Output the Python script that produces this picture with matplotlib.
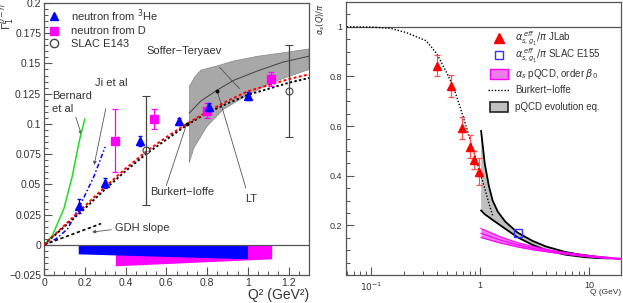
import matplotlib
matplotlib.use("Agg")
import matplotlib.pyplot as plt
from matplotlib.lines import Line2D
from matplotlib.patches import Rectangle
from matplotlib.ticker import MultipleLocator, NullFormatter, FixedLocator

plt.rcParams['font.family'] = ['Liberation Sans', 'DejaVu Sans']
plt.rcParams['mathtext.fontset'] = 'dejavusans'

# ---------------- Left panel data: Gamma1^{p-n} vs Q^2 ----------------
he3_q2 = [0.17, 0.30, 0.47, 0.66, 0.81, 1.0]
he3_g = [0.032, 0.051, 0.086, 0.102, 0.114, 0.123]
he3_err = [0.006, 0.004, 0.004, 0.003, 0.003, 0.003]

d_q2 = [0.35, 0.54, 0.80, 1.115]
d_g = [0.086, 0.104, 0.111, 0.137]
d_err = [0.026, 0.008, 0.006, 0.006]

e143_q2 = [0.5, 1.2]
e143_g = [0.078, 0.127]
e143_err = [0.045, 0.038]

bern_q2 = [0.0, 0.041, 0.098, 0.139, 0.172, 0.20]
bern_g = [0.0, 0.0077, 0.030, 0.057, 0.085, 0.104]

ji_q2 = [0.0, 0.06, 0.115, 0.17, 0.246, 0.30]
ji_g = [0.0, 0.005, 0.013, 0.030, 0.057, 0.081]

bi_red_q2 = [0.0, 0.1, 0.2, 0.3, 0.4, 0.5, 0.6, 0.7, 0.8, 0.9, 1.0, 1.1, 1.2, 1.3]
bi_red_g = [0.0, 0.016, 0.032, 0.048, 0.063, 0.077, 0.089, 0.100, 0.110, 0.119, 0.127, 0.132, 0.137, 0.141]
bi_blk_g = [0.0, 0.015, 0.030, 0.046, 0.061, 0.075, 0.087, 0.099, 0.109, 0.117, 0.124, 0.129, 0.134, 0.138]

gdh_q2 = [0.0, 0.28]
gdh_g = [0.0, 0.0175]

st_up_q2 = [0.713, 0.74, 0.77, 0.85, 0.93, 1.05, 1.18, 1.3]
st_up_g = [0.131, 0.139, 0.1445, 0.148, 0.152, 0.156, 0.159, 0.162]
st_lo_q2 = [0.713, 0.735, 0.80, 0.88, 1.0, 1.13, 1.3]
st_lo_g = [0.068, 0.080, 0.098, 0.112, 0.124, 0.135, 0.145]
st_c_q2 = [0.713, 0.77, 0.85, 0.93, 1.05, 1.17, 1.3]
st_c_g = [0.109, 0.119, 0.128, 0.136, 0.144, 0.151, 0.156]

# systematic bands
sys_he3_q2 = [0.168, 0.998]
sys_he3_lo = [-0.0075, -0.0116]
sys_d_q2 = [0.35, 1.117]
sys_d_lo = [-0.0174, -0.0116]

# ---------------- Right panel data: alpha_s/pi vs Q ----------------
jl_q = [0.40, 0.54, 0.68, 0.81, 0.887, 0.985]
jl_a = [0.844, 0.760, 0.592, 0.517, 0.464, 0.417]
jl_err = [0.044, 0.044, 0.043, 0.046, 0.035, 0.055]

slac155_q = [2.2]
slac155_a = [0.168]

bi_q = [0.06, 0.1, 0.15, 0.21, 0.32, 0.40, 0.5, 0.57, 0.70, 0.81, 0.9, 1.0, 1.1, 1.2, 1.3]
bi_a = [1.0, 0.999, 0.994, 0.977, 0.944, 0.892, 0.81, 0.757, 0.637, 0.544, 0.48, 0.41, 0.35, 0.29, 0.24]

pq_up_q = [1.02, 1.05, 1.1, 1.2, 1.3, 1.45, 1.7, 2.2, 3, 4, 6, 8, 11, 15]
pq_up_a = [0.58, 0.53, 0.45, 0.36, 0.30, 0.255, 0.215, 0.171, 0.138, 0.115, 0.093, 0.083, 0.075, 0.068]
pq_lo_q = [1.02, 1.1, 1.3, 1.65, 2.2, 3, 4, 6, 9, 12, 15]
pq_lo_a = [0.26, 0.245, 0.222, 0.19, 0.152, 0.122, 0.10, 0.082, 0.072, 0.068, 0.067]

ab_q = [1.02, 1.5, 2.2, 3, 5, 10, 20]
ab_top = [0.187, 0.155, 0.130, 0.115, 0.095, 0.078, 0.066]
ab_mid = [0.168, 0.142, 0.121, 0.108, 0.091, 0.075, 0.064]
ab_bot = [0.151, 0.130, 0.113, 0.102, 0.088, 0.073, 0.062]

legend_right = [r'$\alpha_{s,g_1}^{\,eff}/\pi$ JLab', r'$\alpha_{s,g_1}^{\,eff}/\pi$ SLAC E155',
                r'$\alpha_s$ pQCD, order $\beta_0$', 'Burkert\u2212Ioffe', 'pQCD evolution eq.']
legend_left = [r'neutron from $^3$He', 'neutron from D', 'SLAC E143']

TXT = '#333333'
BLUE = '#0000ff'
MAG = '#ff00ff'

fig = plt.figure(figsize=(6.23, 3.03), dpi=100)
W, H = 623.0, 303.0
axL = fig.add_axes([44 / W, 1 - 275 / H, 265 / W, 272 / H])
axR = fig.add_axes([346 / W, 1 - 275 / H, 275 / W, 273 / H])

for ax in (axL, axR):
    for s in ax.spines.values():
        s.set_color('#555555')
        s.set_linewidth(0.9)
    ax.tick_params(which='both', direction='in', top=False, right=False,
                   colors='#555555', labelcolor=TXT)
    ax.tick_params(which='major', length=6, width=0.8, labelsize=7.5)
    ax.tick_params(which='minor', length=3, width=0.7)

# ---------------- Left panel ----------------
axL.set_xlim(0, 1.3)
axL.set_ylim(-0.025, 0.2)
axL.xaxis.set_minor_locator(MultipleLocator(0.05))
axL.yaxis.set_minor_locator(MultipleLocator(0.005))
axL.set_xticks([0, 0.2, 0.4, 0.6, 0.8, 1.0, 1.2])
axL.set_xticklabels(['0', '0.2', '0.4', '0.6', '0.8', '1', '1.2'])
axL.set_yticks([-0.025, 0, 0.025, 0.05, 0.075, 0.1, 0.125, 0.15, 0.175, 0.2])
axL.set_yticklabels(['\u22120.025', '0', '0.025', '0.05', '0.075', '0.1', '0.125', '0.15', '0.175', '0.2'])
axL.tick_params(axis='y', pad=2)
axL.tick_params(axis='x', pad=2)

# systematic bands
axL.fill_between(sys_d_q2, [0, 0], sys_d_lo, color=MAG, lw=0, zorder=2)
axL.fill_between(sys_he3_q2, [0, 0], sys_he3_lo, color=BLUE, lw=0, zorder=3)
axL.axhline(0, color='#555555', lw=0.9, zorder=4)

# Soffer-Teryaev gray band
axL.fill(st_up_q2 + st_lo_q2[::-1], st_up_g + st_lo_g[::-1],
         facecolor='#a8a8a8', edgecolor='#888888', lw=0.5, zorder=2)
axL.plot(st_c_q2, st_c_g, color='#404040', lw=0.7, zorder=3)

# curves
axL.plot(bern_q2, bern_g, color='#22dd22', lw=1.1, zorder=5)
axL.plot(ji_q2, ji_g, color=BLUE, lw=1.1, ls=(0, (3, 1.5, 1, 1.5)), zorder=5)
axL.plot(bi_red_q2, bi_blk_g, color='black', lw=1.4, ls=(0, (1.2, 1.2)), zorder=5)
axL.plot(bi_red_q2, bi_red_g, color='red', lw=1.4, ls=(0, (1.5, 1.2)), zorder=6)
axL.plot(gdh_q2, gdh_g, color='black', lw=1.2, ls=(0, (2, 1.5)), zorder=5)

# data
axL.errorbar(e143_q2, e143_g, yerr=e143_err, fmt='o', ms=5, mfc='none', mec='#444444',
             mew=0.8, ecolor='#444444', elinewidth=0.9, capsize=3, capthick=0.9, zorder=7)
axL.errorbar(d_q2, d_g, yerr=d_err, fmt='s', ms=5.5, color=MAG, mec=MAG,
             ecolor=MAG, elinewidth=0.9, capsize=2.5, capthick=0.9, zorder=8)
axL.errorbar(he3_q2, he3_g, yerr=he3_err, fmt='^', ms=6, color=BLUE, mec=BLUE,
             ecolor=BLUE, elinewidth=0.9, capsize=1.5, zorder=9)

# annotations
ann_kw = dict(color=TXT, fontsize=8)
axL.text(0.505, 0.160, 'Soffer\u2212Teryaev', va='center', ha='left', **ann_kw)
axL.text(0.25, 0.134, 'Ji et al', va='center', ha='left', **ann_kw)
axL.text(0.04, 0.123, 'Bernard', va='center', ha='left', **ann_kw)
axL.text(0.04, 0.112, 'et al', va='center', ha='left', **ann_kw)
axL.text(0.52, 0.044, 'Burkert\u2212Ioffe', va='center', ha='left', **ann_kw)
axL.text(0.985, 0.038, 'LT', va='center', ha='left', **ann_kw)
axL.text(0.35, 0.0135, 'GDH slope', va='center', ha='left', **ann_kw)

line_kw = dict(arrowprops=dict(arrowstyle='-', color='#555555', lw=0.6,
                               shrinkA=0, shrinkB=0))
arrow_kw = dict(arrowprops=dict(arrowstyle='-|>', color='#555555', lw=0.6,
                                mutation_scale=5, shrinkA=0, shrinkB=0))
axL.annotate('', xy=(0.96, 0.129), xytext=(0.86, 0.147), **line_kw)
axL.annotate('', xy=(0.70, 0.100), xytext=(0.60, 0.049), **line_kw)
axL.annotate('', xy=(0.85, 0.127), xytext=(0.99, 0.047), **line_kw)
axL.annotate('', xy=(0.246, 0.066), xytext=(0.303, 0.1125), **arrow_kw)
axL.annotate('', xy=(0.184, 0.091), xytext=(0.156, 0.1056), **arrow_kw)
axL.annotate('', xy=(0.236, 0.0105), xytext=(0.33, 0.0125), **arrow_kw)
axL.plot([0.70, 0.85], [0.100, 0.127], ls='none', marker='o', ms=1.8, color='black', zorder=10)

# legend left
hL = [Line2D([], [], ls='none', marker='^', ms=6, color=BLUE),
      Line2D([], [], ls='none', marker='s', ms=6, color=MAG),
      Line2D([], [], ls='none', marker='o', ms=6, mfc='none', mec='#444444')]
legL = axL.legend(hL, legend_left, loc='upper left', bbox_to_anchor=(0.012, 0.985), frameon=False,
                  fontsize=8, handlelength=1.2, handletextpad=0.9, labelspacing=0.25,
                  borderpad=0, borderaxespad=0)
for t in legL.get_texts():
    t.set_color(TXT)

fig.text(8 / W, 1 - 3 / H, r'$\Gamma_1^{p-n}$', rotation=90, va='top', ha='center',
         fontsize=8, color=TXT)
fig.text(309 / W, 4 / H, 'Q\u00b2 (GeV\u00b2)', ha='right', va='baseline',
         fontsize=10, color=TXT)

# ---------------- Right panel ----------------
axR.set_xscale('log')
axR.set_xlim(0.059, 19.5)
axR.set_ylim(0, 1.1)
axR.yaxis.set_major_locator(FixedLocator([0.2, 0.4, 0.6, 0.8, 1.0]))
axR.set_yticklabels(['0.2', '0.4', '0.6', '0.8', '1'])
axR.yaxis.set_minor_locator(MultipleLocator(0.05))
axR.set_xticks([0.1, 1, 10])
axR.set_xticklabels([r'$10^{-1}$', '1', '10'])
axR.xaxis.set_minor_formatter(NullFormatter())
axR.tick_params(which='major', labelsize=6.5)
axR.tick_params(axis='y', pad=3)
axR.tick_params(axis='x', pad=4)
axR.axhline(1.0, color='#555555', lw=0.9, zorder=1)

# pQCD evolution band
axR.fill(pq_up_q + pq_lo_q[::-1], pq_up_a + pq_lo_a[::-1], facecolor='#c0c0c0',
         edgecolor='none', zorder=2)
axR.plot(pq_up_q, pq_up_a, color='black', lw=1.3, zorder=3)
axR.plot(pq_lo_q, pq_lo_a, color='black', lw=1.3, zorder=3)

# alpha_s pQCD band
axR.fill_between(ab_q, ab_bot, ab_top, color='#f07af0', lw=0, zorder=4)
axR.plot(ab_q, ab_top, color=MAG, lw=0.9, zorder=5)
axR.plot(ab_q, ab_mid, color=MAG, lw=0.9, zorder=5)
axR.plot(ab_q, ab_bot, color=MAG, lw=0.9, zorder=5)

# Burkert-Ioffe
axR.plot(bi_q, bi_a, color='black', lw=1.0, ls=(0, (1, 1.3)), zorder=6)

# data
axR.errorbar(jl_q, jl_a, yerr=jl_err, fmt='^', ms=6, color='red', mec='red',
             ecolor='#ff5050', elinewidth=0.9, capsize=2.5, capthick=0.9, zorder=8)
axR.plot(slac155_q, slac155_a, ls='none', marker='s', ms=6, mfc='none', mec='#3030ff',
         mew=1.0, zorder=9)

# right legend (manual rows)
row_y = [0.868, 0.806, 0.736, 0.678, 0.615]
hx, tx = 0.556, 0.615
tA = axR.transAxes
axR.plot([hx], [row_y[0]], transform=tA, marker='^', ms=7, color='red', ls='none', clip_on=False)
axR.plot([hx], [row_y[1]], transform=tA, marker='s', ms=6, mfc='none', mec='#3030ff',
         mew=1.0, ls='none', clip_on=False)
bw, bh = 0.066, 0.036
axR.add_patch(Rectangle((hx - bw / 2, row_y[2] - bh / 2), bw, bh, transform=tA,
                        facecolor='#e87ee8', edgecolor=MAG, lw=1.0, clip_on=False))
axR.plot([hx - 0.04, hx + 0.04], [row_y[3], row_y[3]], transform=tA, color='black', lw=1.0,
         ls=(0, (1, 1.3)), clip_on=False)
axR.add_patch(Rectangle((hx - bw / 2, row_y[4] - bh / 2), bw, bh, transform=tA,
                        facecolor='#c0c0c0', edgecolor='#222222', lw=1.2, clip_on=False))
for yy, lab in zip(row_y, legend_right):
    axR.text(tx, yy, lab, transform=tA, ha='left', va='center', fontsize=7, color=TXT)

fig.text(321 / W, 1 - 3 / H, r'$\alpha_s(Q)/\pi$', rotation=90, va='top', ha='center',
         fontsize=6, color=TXT)
fig.text(621 / W, 1 - 292 / H, 'Q (GeV)', ha='right', va='center',
         fontsize=6, color=TXT)

fig.savefig('out.png', dpi=100)
